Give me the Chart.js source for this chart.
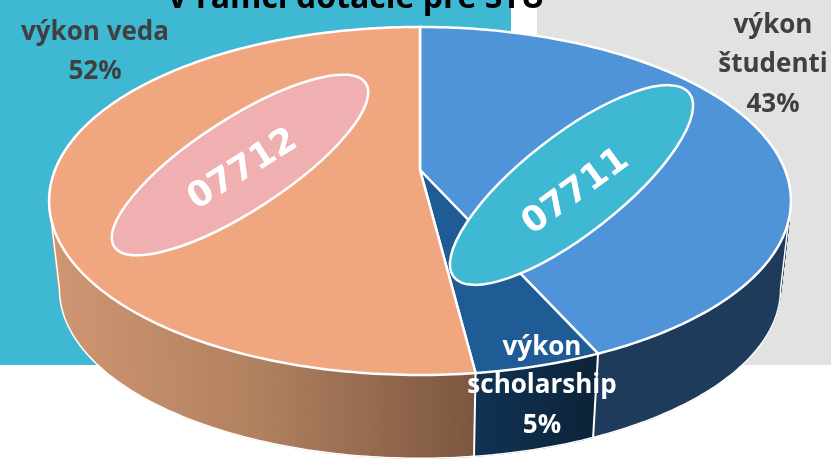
<!DOCTYPE html>
<html lang="sk">
<head>
<meta charset="UTF-8">
<title>výkon v rámci dotácie pre STU</title>
<script src="https://cdn.jsdelivr.net/npm/chart.js"></script>
<style>
  html, body { margin: 0; padding: 0; background: #fff; overflow: hidden; }
  canvas { display: block; }
</style>
</head>
<body>
<canvas id="pie" width="831" height="459"></canvas>
<script>
  const categories = ["výkon študenti", "výkon scholarship", "výkon veda"];
  const shares = [43.3, 4.7, 52];
  const titleText = "V rámci dotácie pre STU";
  const topColors = ["#4F93D8", "#1F5C96", "#F0A780"];
  const badgeTexts = ["07711", "07712"];

  const labelFont = 'bold 26px "Open Sans"';
  const labelDark = "#404040";

  // perspektiva: stred kolaca (420,170), spodna plocha je posunuta a trochu mensia
  const persp = 0.178, radiusX = 365, radiusY = 168.5;
  const top0 = { x: 420, y: 170, s: 1 };
  const bottom0 = { x: 420, y: 259, s: 0.972 };

  function project(a, plane) {
    const u = Math.cos(a), v = Math.sin(a);
    const w = 1 - persp * v;
    return [plane.x + plane.s * radiusX * u / w, plane.y + plane.s * radiusY * v / w];
  }

  function sideFill(ctx, i) {
    if (i === 0) return "#1F3B5C";
    const g = ctx.createLinearGradient(i === 1 ? 475 : 50, 0, i === 1 ? 598 : 475, 0);
    if (i === 1) {
      g.addColorStop(0, "#113253");
      g.addColorStop(1, "#0B2338");
    } else {
      g.addColorStop(0, "#D09672");
      g.addColorStop(0.5, "#B0805F");
      g.addColorStop(1, "#7C5640");
    }
    return g;
  }

  function drawBackground(ctx) {
    ctx.fillStyle = "#3FB9D3";
    ctx.fillRect(0, 0, 511, 365);
    ctx.fillStyle = "#E2E2E2";
    ctx.fillRect(537, 0, 294, 365);
    ctx.fillStyle = "#000";
    ctx.font = 'bold 32px "Open Sans"';
    ctx.textAlign = "left";
    ctx.textBaseline = "alphabetic";
    ctx.fillText(titleText, 167, 8);
  }

  function drawSides(ctx, arcs) {
    arcs.forEach((arc, i) => {
      const fill = sideFill(ctx, i);
      ctx.fillStyle = fill;
      ctx.strokeStyle = fill;
      ctx.lineWidth = 1;
      const n = 160;
      for (let k = 0; k < n; k++) {
        const a0 = arc.startAngle + (arc.endAngle - arc.startAngle) * k / n;
        const a1 = arc.startAngle + (arc.endAngle - arc.startAngle) * (k + 1) / n;
        if (Math.sin(a0) < -0.1 && Math.sin(a1) < -0.1) continue;
        const p = [project(a0, top0), project(a1, top0), project(a1, bottom0), project(a0, bottom0)];
        ctx.beginPath();
        p.forEach((q, j) => j ? ctx.lineTo(q[0], q[1]) : ctx.moveTo(q[0], q[1]));
        ctx.closePath();
        ctx.fill();
        ctx.stroke();
      }
    });

    // obrys plasta
    const t0 = Math.asin(persp);
    ctx.strokeStyle = "#fff";
    ctx.lineWidth = 1.5;
    ctx.beginPath();
    let p = project(t0, top0);
    ctx.moveTo(p[0], p[1]);
    for (let k = 0; k <= 200; k++) {
      p = project(t0 + (Math.PI - 2 * t0) * k / 200, bottom0);
      ctx.lineTo(p[0], p[1]);
    }
    p = project(Math.PI - t0, top0);
    ctx.lineTo(p[0], p[1]);
    ctx.stroke();

    // hrany medzi vysekmi na plasti
    ctx.lineWidth = 2;
    arcs.forEach(arc => {
      if (Math.sin(arc.endAngle) <= 0) return;
      const a = project(arc.endAngle, top0), b = project(arc.endAngle, bottom0);
      ctx.beginPath();
      ctx.moveTo(a[0], a[1]);
      ctx.lineTo(b[0], b[1]);
      ctx.stroke();
    });
  }

  function drawTops(ctx, arcs) {
    arcs.forEach(arc => {
      ctx.beginPath();
      ctx.moveTo(top0.x, top0.y);
      const n = 200;
      for (let k = 0; k <= n; k++) {
        const q = project(arc.startAngle + (arc.endAngle - arc.startAngle) * k / n, top0);
        ctx.lineTo(q[0], q[1]);
      }
      ctx.closePath();
      ctx.fillStyle = arc.options.backgroundColor;
      ctx.fill();
      ctx.strokeStyle = "#fff";
      ctx.lineWidth = 2.5;
      ctx.stroke();
    });
  }

  function badge(ctx, x, y, rx, ry, deg, color, text, tx, ty, tdeg) {
    ctx.save();
    ctx.beginPath();
    ctx.ellipse(x, y, rx, ry, deg * Math.PI / 180, 0, Math.PI * 2);
    ctx.fillStyle = color;
    ctx.fill();
    ctx.strokeStyle = "#fff";
    ctx.lineWidth = 2.5;
    ctx.stroke();
    ctx.translate(tx, ty);
    ctx.rotate(tdeg * Math.PI / 180);
    ctx.fillStyle = "#fff";
    ctx.font = 'bold 35px "DejaVu Sans"';
    ctx.textAlign = "center";
    ctx.textBaseline = "middle";
    ctx.fillText(text, 0, 0);
    ctx.restore();
  }

  function lines(ctx, rows, x, color) {
    ctx.fillStyle = color;
    ctx.font = labelFont;
    ctx.textAlign = "center";
    ctx.textBaseline = "alphabetic";
    rows.forEach(r => ctx.fillText(r[0], x, r[1]));
  }

  const pct = v => Math.round(v) + "%";

  const pie3d = {
    id: "pie3d",
    beforeDatasetDraw(chart) {
      const ctx = chart.ctx;
      const arcs = chart.getDatasetMeta(0).data;
      ctx.save();
      drawBackground(ctx);
      drawSides(ctx, arcs);
      drawTops(ctx, arcs);
      badge(ctx, 240, 165, 150, 46, -33, "#F0B0B2", badgeTexts[1], 243, 170, -32);
      badge(ctx, 571.5, 185, 149.4, 49.4, -38, "#3FB9D3", badgeTexts[0], 576, 192, -36);
      lines(ctx, [["výkon", 33], ["študenti", 72], [pct(shares[0]), 112]], 773, labelDark);
      lines(ctx, [["výkon", 355], ["scholarship", 393], [pct(shares[1]), 433]], 542, "#fff");
      lines(ctx, [["výkon veda", 40], [pct(shares[2]), 79]], 95, labelDark);
      ctx.restore();
      return false;
    }
  };

  new Chart(document.getElementById("pie"), {
    type: "pie",
    data: {
      labels: categories,
      datasets: [{ data: shares, backgroundColor: topColors, borderColor: "#fff" }]
    },
    options: {
      responsive: false,
      animation: false,
      plugins: { legend: { display: false }, tooltip: { enabled: false } }
    },
    plugins: [pie3d]
  });
</script>
</body>
</html>
